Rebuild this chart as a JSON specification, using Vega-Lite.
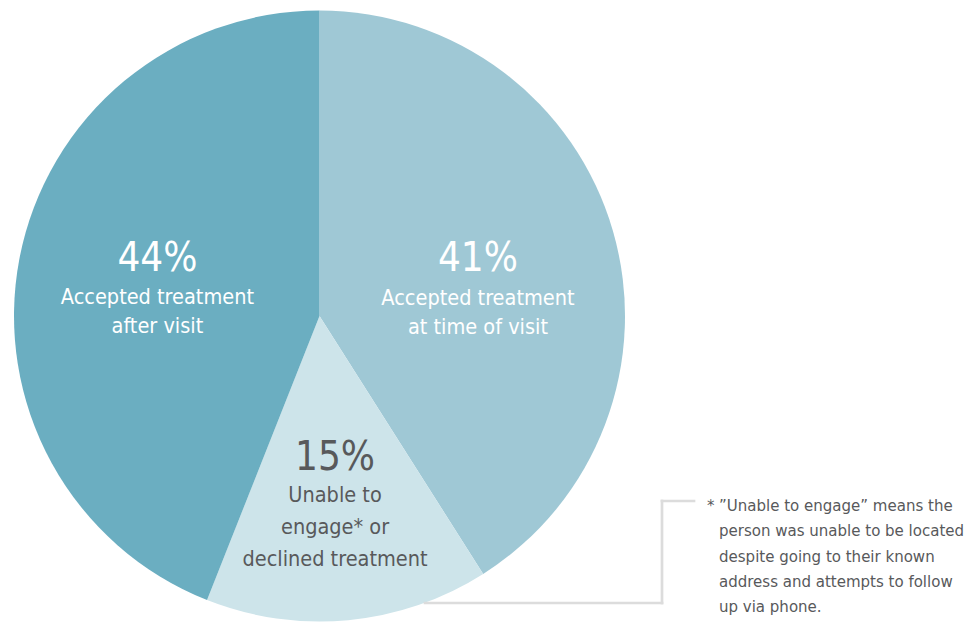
{
  "$schema": "https://vega.github.io/schema/vega-lite/v6.json",
  "width": 970,
  "height": 622,
  "autosize": {"type": "none"},
  "padding": 0,
  "background": "white",
  "config": {"view": {"stroke": null}, "font": "DejaVu Sans Condensed, sans-serif"},
  "datasets": {
    "slices": [
      {"category": "Accepted treatment at time of visit", "value": 41, "order": 1, "pct": "41%", "desc": "Accepted treatment\nat time of visit"},
      {"category": "Unable to engage or declined treatment", "value": 15, "order": 2, "pct": "15%", "desc": "Unable to\nengage* or\ndeclined treatment"},
      {"category": "Accepted treatment after visit", "value": 44, "order": 3, "pct": "44%", "desc": "Accepted treatment\nafter visit"}
    ],
    "note": [
      {"marker": "*", "text": "”Unable to engage” means the\nperson was unable to be located\ndespite going to their known\naddress and attempts to follow\nup via phone."}
    ]
  },
  "encoding": {
    "x": {"datum": 319.5, "type": "quantitative", "scale": {"domain": [0, 970]}, "axis": null},
    "y": {"datum": 316, "type": "quantitative", "scale": {"domain": [0, 622], "reverse": true}, "axis": null}
  },
  "layer": [
    {
      "data": {"name": "slices"},
      "mark": {"type": "arc", "outerRadius": 305.5},
      "encoding": {
        "theta": {"field": "value", "type": "quantitative", "stack": true},
        "order": {"field": "order", "type": "quantitative"},
        "color": {"field": "category", "type": "nominal", "legend": null,
          "scale": {"domain": ["Accepted treatment at time of visit", "Unable to engage or declined treatment", "Accepted treatment after visit"],
                    "range": ["#9fc8d5", "#cde4ea", "#6baec1"]}}
      }
    },
    {
      "data": {"name": "slices"},
      "mark": {"type": "text", "radius": 165, "fontSize": 40, "fill": "white", "align": "center", "baseline": "alphabetic", "dy": 1},
      "encoding": {
        "theta": {"field": "value", "type": "quantitative", "stack": true},
        "order": {"field": "order", "type": "quantitative"},
        "detail": {"field": "category"},
        "text": {"condition": {"test": "datum.order == 1", "field": "pct"}, "value": ""}
      }
    },
    {
      "data": {"name": "slices"},
      "mark": {"type": "text", "radius": 165, "fontSize": 21.5, "lineHeight": 29, "lineBreak": "\n", "fill": "white", "align": "center", "baseline": "alphabetic", "dy": 35},
      "encoding": {
        "theta": {"field": "value", "type": "quantitative", "stack": true},
        "order": {"field": "order", "type": "quantitative"},
        "detail": {"field": "category"},
        "text": {"condition": {"test": "datum.order == 1", "field": "desc"}, "value": ""}
      }
    },
    {
      "data": {"name": "slices"},
      "mark": {"type": "text", "radius": 165, "fontSize": 40, "fill": "white", "align": "center", "baseline": "alphabetic", "dy": -14},
      "encoding": {
        "theta": {"field": "value", "type": "quantitative", "stack": true},
        "order": {"field": "order", "type": "quantitative"},
        "detail": {"field": "category"},
        "text": {"condition": {"test": "datum.order == 3", "field": "pct"}, "value": ""}
      }
    },
    {
      "data": {"name": "slices"},
      "mark": {"type": "text", "radius": 165, "fontSize": 21.5, "lineHeight": 29, "lineBreak": "\n", "fill": "white", "align": "center", "baseline": "alphabetic", "dy": 19},
      "encoding": {
        "theta": {"field": "value", "type": "quantitative", "stack": true},
        "order": {"field": "order", "type": "quantitative"},
        "detail": {"field": "category"},
        "text": {"condition": {"test": "datum.order == 3", "field": "desc"}, "value": ""}
      }
    },
    {
      "data": {"name": "slices"},
      "mark": {"type": "text", "radius": 165, "fontSize": 40, "fill": "#58595b", "align": "center", "baseline": "alphabetic", "dy": -10},
      "encoding": {
        "theta": {"field": "value", "type": "quantitative", "stack": true},
        "order": {"field": "order", "type": "quantitative"},
        "detail": {"field": "category"},
        "text": {"condition": {"test": "datum.order == 2", "field": "pct"}, "value": ""}
      }
    },
    {
      "data": {"name": "slices"},
      "mark": {"type": "text", "radius": 165, "fontSize": 21.5, "lineHeight": 32, "lineBreak": "\n", "fill": "#58595b", "align": "center", "baseline": "alphabetic", "dy": 22},
      "encoding": {
        "theta": {"field": "value", "type": "quantitative", "stack": true},
        "order": {"field": "order", "type": "quantitative"},
        "detail": {"field": "category"},
        "text": {"condition": {"test": "datum.order == 2", "field": "desc"}, "value": ""}
      }
    },
    {
      "data": {"values": [{}]},
      "mark": {"type": "rule", "stroke": "#dcdcdc", "strokeWidth": 2.7, "strokeCap": "square"},
      "encoding": {"x": {"datum": 425}, "x2": {"datum": 662}, "y": {"datum": 603}}
    },
    {
      "data": {"values": [{}]},
      "mark": {"type": "rule", "stroke": "#dcdcdc", "strokeWidth": 2.7, "strokeCap": "square"},
      "encoding": {"x": {"datum": 662}, "y": {"datum": 501}, "y2": {"datum": 603}}
    },
    {
      "data": {"values": [{}]},
      "mark": {"type": "rule", "stroke": "#dcdcdc", "strokeWidth": 2.7, "strokeCap": "square"},
      "encoding": {"x": {"datum": 662}, "x2": {"datum": 694}, "y": {"datum": 501}}
    },
    {
      "data": {"name": "note"},
      "mark": {"type": "text", "fontSize": 16.7, "lineHeight": 25.3, "lineBreak": "\n", "fill": "#58595b", "align": "left", "baseline": "alphabetic"},
      "encoding": {"x": {"datum": 719}, "y": {"datum": 511}, "text": {"field": "text"}}
    },
    {
      "data": {"name": "note"},
      "mark": {"type": "text", "fontSize": 16.7, "fill": "#58595b", "align": "left", "baseline": "alphabetic"},
      "encoding": {"x": {"datum": 707}, "y": {"datum": 511}, "text": {"field": "marker"}}
    }
  ]
}
